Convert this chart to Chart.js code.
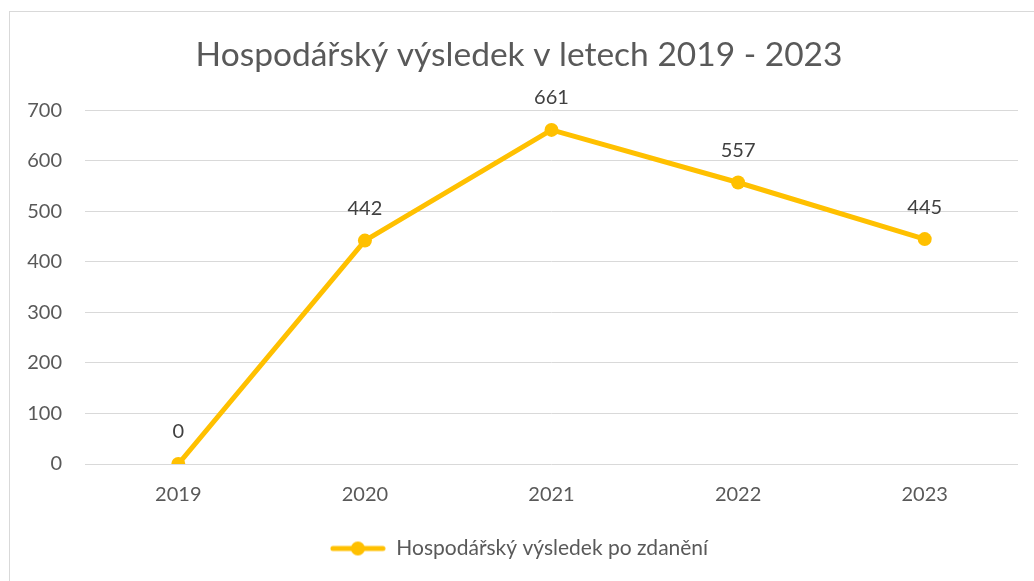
<!DOCTYPE html>
<html>
<head>
<meta charset="utf-8">
<script src="https://cdn.jsdelivr.net/npm/chart.js@4"></script>
<style>
	body { margin: 0; background: #fff; }
	#frame { position: absolute; left: 9px; top: 11px; width: 1040px; height: 600px; border: 1px solid #d9d9d9; }
	#wrap { position: absolute; left: 0; top: 0; width: 1034px; height: 581px; }
</style>
</head>
<body>
<div id="frame"></div>
<div id="wrap"><canvas id="chart"></canvas></div>
<script>
const years = ["2019", "2020", "2021", "2022", "2023"];
const result = [0, 442, 661, 557, 445];
const seriesName = "Hospodářský výsledek po zdanění";
const chartTitle = "Hospodářský výsledek v letech 2019 - 2023";

const yellow = "#FFC000";
const textColor = "#595959";
const fontFamily = "Lato, 'Open Sans', sans-serif";

// legend icon: short line with a dot in the middle
const icon = document.createElement("canvas");
icon.width = 56;
icon.height = 16;
const ictx = icon.getContext("2d");
ictx.strokeStyle = yellow;
ictx.lineWidth = 5;
ictx.lineCap = "round";
ictx.beginPath();
ictx.moveTo(3, 8);
ictx.lineTo(53, 8);
ictx.stroke();
ictx.fillStyle = yellow;
ictx.beginPath();
ictx.arc(28, 8, 7, 0, Math.PI * 2);
ictx.fill();

const valueLabels = {
	id: "valueLabels",
	afterDatasetsDraw(chart) {
		const ctx = chart.ctx;
		const meta = chart.getDatasetMeta(0);
		ctx.save();
		ctx.font = "20px " + fontFamily;
		ctx.fillStyle = "#404040";
		ctx.textAlign = "center";
		ctx.textBaseline = "middle";
		meta.data.forEach((pt, i) => {
			ctx.fillText(String(result[i]), pt.x, pt.y - 32);
		});
		ctx.restore();
	},
};

new Chart(document.getElementById("chart"), {
	type: "line",
	data: {
		labels: years,
		datasets: [
			{
				label: seriesName,
				data: result,
				borderColor: yellow,
				backgroundColor: yellow,
				borderWidth: 5,
				pointRadius: 7,
				pointHoverRadius: 7,
				pointBackgroundColor: yellow,
				pointBorderWidth: 0,
				tension: 0,
			},
		],
	},
	options: {
		responsive: true,
		maintainAspectRatio: false,
		animation: false,
		layout: { padding: { left: 20, right: 16, top: 35, bottom: 12 } },
		plugins: {
			title: {
				display: true,
				text: chartTitle,
				color: textColor,
				font: { family: fontFamily, size: 33.5, weight: "normal" },
				padding: { top: 0, bottom: 35 },
			},
			legend: {
				position: "bottom",
				labels: {
					usePointStyle: true,
					pointStyle: icon,
					pointStyleWidth: 56,
					color: textColor,
					font: { family: fontFamily, size: 21 },
					padding: 10,
				},
			},
			tooltip: { enabled: false },
		},
		scales: {
			x: {
				offset: true,
				afterFit(scale) { scale.height = 64; },
				grid: { display: false, drawTicks: false },
				border: { display: false },
				ticks: { color: textColor, font: { family: fontFamily, size: 20 }, padding: 19 },
			},
			y: {
				min: 0,
				max: 700,
				afterFit(scale) { scale.width = 65; },
				grid: { color: "#d9d9d9", lineWidth: 1, drawTicks: false },
				border: { display: false },
				ticks: { stepSize: 100, color: textColor, font: { family: fontFamily, size: 20 }, padding: 23 },
			},
		},
	},
	plugins: [valueLabels],
});
</script>
</body>
</html>
